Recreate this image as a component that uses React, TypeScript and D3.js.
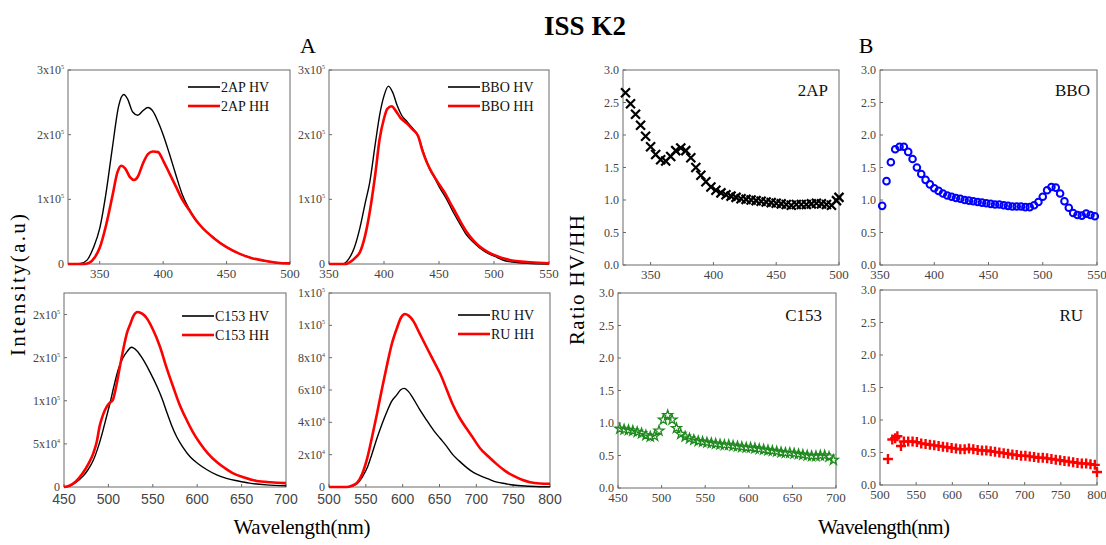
import React from "react";
import * as d3 from "d3";

type P = [number, number];

// ---------- Panel A data (wavelength nm, intensity) ----------
// 2AP, intensity in units of 1e5
const ap2HV: P[] = [[325,0],[335,0.01],[340,0.06],[345,0.25],[350,0.55],[355,1.1],[360,1.8],[365,2.45],[369,2.62],[372,2.55],[376,2.35],[380,2.3],[384,2.37],[388,2.42],[392,2.36],[396,2.2],[400,2.0],[405,1.7],[410,1.38],[415,1.08],[420,0.87],[425,0.71],[430,0.58],[440,0.4],[450,0.26],[460,0.16],[470,0.09],[480,0.05],[490,0.02],[500,0.01]];
const ap2HH: P[] = [[325,0],[338,0],[342,0.02],[346,0.1],[350,0.25],[355,0.6],[360,1.05],[364,1.42],[367,1.52],[370,1.48],[374,1.34],[377,1.3],[380,1.35],[384,1.55],[388,1.7],[392,1.74],[396,1.73],[400,1.6],[405,1.4],[410,1.2],[415,1.0],[420,0.85],[425,0.7],[430,0.58],[440,0.4],[450,0.26],[460,0.16],[470,0.09],[480,0.05],[490,0.02],[500,0.01]];
// BBO, intensity in units of 1e5
const bboHV: P[] = [[350,0],[362,0],[368,0.08],[373,0.25],[378,0.55],[383,0.95],[387,1.26],[392,1.85],[396,2.3],[400,2.6],[404,2.75],[408,2.65],[412,2.45],[416,2.3],[421,2.2],[426,2.1],[431,1.98],[436,1.72],[442,1.45],[446,1.33],[451,1.17],[457,1.0],[463,0.8],[469,0.62],[475,0.45],[481,0.34],[487,0.25],[495,0.16],[503,0.1],[510,0.05],[517,0.03],[530,0.01],[550,0]];
const bboHH: P[] = [[350,0],[365,0],[370,0.04],[374,0.1],[378,0.18],[383,0.45],[387,0.8],[392,1.38],[396,1.93],[400,2.25],[403,2.4],[407,2.44],[411,2.36],[415,2.26],[421,2.17],[426,2.08],[431,1.98],[435,1.75],[439,1.57],[444,1.4],[451,1.21],[456,1.08],[460,0.95],[465,0.8],[470,0.64],[475,0.5],[481,0.37],[487,0.27],[495,0.18],[503,0.12],[510,0.08],[518,0.05],[530,0.03],[540,0.02],[550,0.01]];
// C153, intensity in units of 1e4
const c153HV: P[] = [[450,0],[456,0.1],[463,0.5],[471,1.2],[477,2.0],[483,3.1],[489,4.8],[494,6.6],[498,8.2],[502,9.8],[506,11.6],[511,13.6],[516,14.9],[521,15.7],[526,16.2],[532,15.8],[539,14.8],[547,13.3],[555,11.6],[561,10.1],[566,8.6],[571,7.2],[577,5.8],[584,4.6],[592,3.5],[601,2.7],[611,2.0],[622,1.4],[633,1.0],[646,0.7],[659,0.45],[678,0.25],[700,0.15]];
const c153HH: P[] = [[450,0],[456,0.15],[463,0.6],[471,1.6],[477,2.6],[483,3.9],[487,5.3],[490,7.0],[494,8.4],[498,9.3],[502,9.8],[505,10.1],[509,11.8],[513,14.0],[517,16.1],[521,17.9],[525,19.0],[528,19.8],[533,20.3],[538,20.1],[543,19.6],[550,18.3],[558,16.3],[565,14.0],[573,11.6],[580,9.6],[588,7.8],[595,6.4],[603,5.1],[612,3.9],[622,2.9],[631,2.2],[640,1.6],[653,1.1],[667,0.7],[683,0.55],[700,0.45]];
// RU, intensity in units of 1e4
const ruHV: P[] = [[500,0],[524,0],[531,0.05],[538,0.2],[545,0.6],[552,1.2],[558,2.0],[565,3.0],[572,3.9],[579,4.7],[585,5.3],[592,5.7],[597,6.0],[602,6.1],[608,5.9],[614,5.5],[623,4.8],[633,4.1],[642,3.5],[651,3.0],[660,2.5],[668,2.0],[677,1.6],[687,1.2],[696,0.9],[705,0.7],[716,0.5],[728,0.3],[740,0.2],[750,0.12],[770,0.05],[786,0.02],[800,0.02]];
const ruHH: P[] = [[500,0],[524,0],[531,0.08],[538,0.25],[545,0.8],[552,1.8],[558,3.0],[565,4.5],[572,6.1],[579,7.6],[585,8.8],[592,9.8],[598,10.5],[603,10.7],[608,10.6],[614,10.3],[623,9.5],[633,8.6],[642,7.8],[651,7.0],[660,6.0],[668,5.1],[677,4.3],[687,3.6],[696,3.0],[705,2.4],[716,1.9],[728,1.4],[739,1.0],[750,0.7],[762,0.45],[773,0.3],[786,0.22],[800,0.2]];

// ---------- Panel B data (wavelength nm, ratio HV/HH) ----------
const ratio2AP: P[] = [[330,2.65],[334,2.48],[338,2.32],[342,2.15],[346,1.98],[350,1.82],[354,1.7],[358,1.62],[362,1.6],[366,1.67],[370,1.76],[374,1.8],[378,1.76],[382,1.65],[386,1.5],[390,1.38],[394,1.28],[398,1.2],[402,1.15],[406,1.11],[410,1.08],[414,1.06],[418,1.04],[422,1.02],[426,1.01],[430,1.0],[434,0.99],[438,0.98],[442,0.97],[446,0.96],[450,0.95],[454,0.94],[458,0.93],[462,0.92],[466,0.93],[470,0.93],[474,0.93],[478,0.94],[482,0.95],[486,0.94],[490,0.93],[494,0.92],[498,0.99],[500,1.04]];
const ratioBBO: P[] = [[352,0.91],[356,1.29],[360,1.58],[364,1.78],[368,1.82],[372,1.82],[376,1.74],[380,1.63],[384,1.5],[388,1.4],[392,1.31],[396,1.24],[400,1.18],[404,1.14],[408,1.1],[412,1.07],[416,1.05],[420,1.03],[424,1.02],[428,1.0],[432,0.99],[436,0.98],[440,0.97],[444,0.96],[448,0.95],[452,0.94],[456,0.93],[460,0.93],[464,0.92],[468,0.91],[472,0.9],[476,0.9],[480,0.9],[484,0.89],[488,0.89],[492,0.92],[496,0.97],[500,1.05],[504,1.15],[508,1.2],[512,1.19],[516,1.1],[520,0.98],[524,0.88],[528,0.8],[532,0.77],[536,0.76],[540,0.79],[544,0.77],[548,0.75]];
const ratioC153: P[] = [[452,0.91],[457,0.9],[462,0.89],[467,0.88],[472,0.86],[477,0.84],[482,0.81],[487,0.79],[492,0.8],[497,0.88],[502,1.05],[507,1.12],[512,1.05],[517,0.92],[522,0.83],[527,0.79],[532,0.76],[537,0.74],[542,0.72],[547,0.71],[552,0.7],[557,0.69],[562,0.68],[567,0.67],[572,0.66],[577,0.66],[582,0.65],[587,0.64],[592,0.63],[597,0.62],[602,0.62],[607,0.61],[612,0.6],[617,0.59],[622,0.58],[627,0.57],[632,0.56],[637,0.55],[642,0.54],[647,0.54],[652,0.53],[657,0.52],[662,0.51],[667,0.5],[672,0.49],[677,0.49],[682,0.5],[687,0.5],[692,0.48],[697,0.43]];
const ratioRU: P[] = [[511,0.4],[517,0.7],[521,0.72],[524,0.75],[529,0.6],[533,0.67],[539,0.67],[545,0.67],[551,0.66],[557,0.64],[563,0.63],[569,0.62],[575,0.61],[581,0.6],[587,0.59],[593,0.58],[599,0.57],[605,0.56],[611,0.55],[617,0.55],[623,0.56],[629,0.55],[635,0.54],[641,0.53],[647,0.53],[653,0.52],[659,0.51],[665,0.5],[671,0.49],[677,0.48],[683,0.47],[689,0.46],[695,0.45],[701,0.45],[707,0.44],[713,0.43],[719,0.42],[725,0.42],[731,0.41],[737,0.4],[743,0.39],[749,0.38],[755,0.37],[761,0.36],[767,0.35],[773,0.34],[779,0.33],[785,0.33],[791,0.32],[797,0.31],[800,0.2]];

// ---------- Tick values / labels ----------
const xTicks2AP = [350, 400, 450, 500];
const xTicksBBO = [350, 400, 450, 500, 550];
const xTicksC153 = [450, 500, 550, 600, 650, 700];
const xTicksRU = [500, 550, 600, 650, 700, 750, 800];
const yTicksA1 = [0, 1, 2, 3];
const yLabelsA1 = ["0", "1x10|5", "2x10|5", "3x10|5"];
const yTicksC153 = [0, 5, 10, 15, 20];
const yLabelsC153 = ["0", "5x10|4", "1x10|5", "2x10|5", "2x10|5"];
const yTicksRU = [0, 2, 4, 6, 8, 10, 12];
const yLabelsRU = ["0", "2x10|4", "4x10|4", "6x10|4", "8x10|4", "1x10|5", "1x10|5"];
const yTicksRatio = [0, 0.5, 1, 1.5, 2, 2.5, 3];
const yLabelsRatio = ["0.0", "0.5", "1.0", "1.5", "2.0", "2.5", "3.0"];

const SERIF = "Liberation Serif";
const SANS = "Liberation Sans";
const FRAME = "#6a6a6a";
const TICKC = "#444";

function YLabel({ text, x, y }: { text: string; x: number; y: number }) {
  const [b, e] = text.split("|");
  return (
    <text x={x} y={y + 4} textAnchor="end" style={{ fontFamily: SERIF }} fontSize={12} fill={TICKC}>
      {b}
      {e ? (
        <tspan dy={-5} fontSize={6}>{e}</tspan>
      ) : null}
    </text>
  );
}

function Frame({ box, xs, ys, xTicks, yTicks, yLabels, xFont, xSize, xDy }: any) {
  return (
    <g>
      <rect x={box.x0} y={box.y0} width={box.x1 - box.x0} height={box.y1 - box.y0} fill="none" stroke={FRAME} strokeWidth={1} />
      {xTicks.map((t: number) => (
        <g key={"x" + t}>
          <line x1={xs(t)} x2={xs(t)} y1={box.y1} y2={box.y1 - 3} stroke={FRAME} />
          <text x={xs(t)} y={box.y1 + xDy} textAnchor="middle" style={{ fontFamily: xFont }} fontSize={xSize} fill={TICKC}>{t}</text>
        </g>
      ))}
      {yTicks.map((t: number, i: number) => (
        <g key={"y" + t}>
          <line x1={box.x0} x2={box.x0 + 3} y1={ys(t)} y2={ys(t)} stroke={FRAME} />
          <YLabel text={yLabels[i]} x={box.x0 - 4} y={ys(t)} />
        </g>
      ))}
    </g>
  );
}

function SpectrumPanel({ box, xDom, yDom, xTicks, yTicks, yLabels, hv, hh, name, legX, legY, xFont, xSize, xDy }: any) {
  const xs = d3.scaleLinear().domain(xDom).range([box.x0, box.x1]);
  const ys = d3.scaleLinear().domain(yDom).range([box.y1, box.y0]);
  const line = d3.line<P>().x((d) => xs(d[0])).y((d) => ys(d[1])).curve(d3.curveMonotoneX);
  return (
    <g>
      <Frame box={box} xs={xs} ys={ys} xTicks={xTicks} yTicks={yTicks} yLabels={yLabels} xFont={xFont} xSize={xSize} xDy={xDy} />
      <path d={line(hv) || ""} fill="none" stroke="#000" strokeWidth={1.4} />
      <path d={line(hh) || ""} fill="none" stroke="#ff0000" strokeWidth={2.6} />
      <line x1={legX} x2={legX + 32} y1={legY} y2={legY} stroke="#000" strokeWidth={1.6} />
      <text x={legX + 33} y={legY + 5} style={{ fontFamily: SERIF }} fontSize={14} fill="#111">{name} HV</text>
      <line x1={legX} x2={legX + 32} y1={legY + 19} y2={legY + 19} stroke="#ff0000" strokeWidth={2.6} />
      <text x={legX + 33} y={legY + 24} style={{ fontFamily: SERIF }} fontSize={14} fill="#111">{name} HH</text>
    </g>
  );
}

function RatioPanel({ box, xDom, xTicks, data, marker, name, nameX, nameY }: any) {
  const xs = d3.scaleLinear().domain(xDom).range([box.x0, box.x1]);
  const ys = d3.scaleLinear().domain([0, 3]).range([box.y1, box.y0]);
  const star = d3.symbol().type(d3.symbolStar).size(30)() || "";
  return (
    <g>
      <Frame box={box} xs={xs} ys={ys} xTicks={xTicks} yTicks={yTicksRatio} yLabels={yLabelsRatio} xFont={SERIF} xSize={13} xDy={14} />
      <g>
        {data.map((d: P, i: number) => {
          const cx = xs(d[0]);
          const cy = ys(d[1]);
          if (marker === "x")
            return (
              <path key={i} d={`M${cx - 4.5},${cy - 4.5}L${cx + 4.5},${cy + 4.5}M${cx - 4.5},${cy + 4.5}L${cx + 4.5},${cy - 4.5}`} stroke="#000" strokeWidth={2.2} fill="none" />
            );
          if (marker === "o")
            return <circle key={i} cx={cx} cy={cy} r={3.3} fill="none" stroke="#0000ff" strokeWidth={2} />;
          if (marker === "star")
            return <path key={i} d={star} transform={`translate(${cx},${cy})`} fill="none" stroke="#1f8a1f" strokeWidth={1.3} />;
          return (
            <path key={i} d={`M${cx - 5},${cy}L${cx + 5},${cy}M${cx},${cy - 5}L${cx},${cy + 5}`} stroke="#ff0000" strokeWidth={2.4} fill="none" />
          );
        })}
      </g>
      <text x={nameX} y={nameY} textAnchor="end" style={{ fontFamily: SERIF }} fontSize={17} fill="#111">{name}</text>
    </g>
  );
}

export default function App() {
  return (
    <svg width={1106} height={545} style={{ position: "absolute", left: 0, top: 0, background: "#fff", fontFamily: SERIF }}>
      <rect width={1106} height={545} fill="#fff" />
      <text x={585} y={35} textAnchor="middle" style={{ fontFamily: SERIF }} fontWeight="bold" fontSize={27} fill="#000">ISS K2</text>
      <text x={308} y={53} textAnchor="middle" style={{ fontFamily: SERIF }} fontSize={22} fill="#000">A</text>
      <text x={866} y={53} textAnchor="middle" style={{ fontFamily: SERIF }} fontSize={22} fill="#000">B</text>

      <SpectrumPanel box={{ x0: 68, y0: 70, x1: 290, y1: 264 }} xDom={[325, 500]} yDom={[0, 3]} xTicks={xTicks2AP}
        yTicks={yTicksA1} yLabels={yLabelsA1} hv={ap2HV} hh={ap2HH} name="2AP" legX={188} legY={87} xFont={SERIF} xSize={13} xDy={14} />
      <SpectrumPanel box={{ x0: 329, y0: 70, x1: 549, y1: 264 }} xDom={[350, 550]} yDom={[0, 3]} xTicks={xTicksBBO}
        yTicks={yTicksA1} yLabels={yLabelsA1} hv={bboHV} hh={bboHH} name="BBO" legX={448} legY={87} xFont={SERIF} xSize={13} xDy={14} />
      <SpectrumPanel box={{ x0: 64, y0: 293, x1: 286, y1: 487 }} xDom={[450, 700]} yDom={[0, 22.5]} xTicks={xTicksC153}
        yTicks={yTicksC153} yLabels={yLabelsC153} hv={c153HV} hh={c153HH} name="C153" legX={182} legY={316} xFont={SANS} xSize={14} xDy={17} />
      <SpectrumPanel box={{ x0: 329, y0: 293, x1: 550, y1: 487 }} xDom={[500, 800]} yDom={[0, 12]} xTicks={xTicksRU}
        yTicks={yTicksRU} yLabels={yLabelsRU} hv={ruHV} hh={ruHH} name="RU" legX={458} legY={315} xFont={SANS} xSize={14} xDy={17} />

      <RatioPanel box={{ x0: 623, y0: 70, x1: 839, y1: 265 }} xDom={[328, 500]} xTicks={xTicks2AP} data={ratio2AP} marker="x" name="2AP" nameX={828} nameY={96} />
      <RatioPanel box={{ x0: 880, y0: 70, x1: 1097, y1: 265 }} xDom={[350, 550]} xTicks={xTicksBBO} data={ratioBBO} marker="o" name="BBO" nameX={1090} nameY={96} />
      <RatioPanel box={{ x0: 618, y0: 293, x1: 836, y1: 488 }} xDom={[450, 700]} xTicks={xTicksC153} data={ratioC153} marker="star" name="C153" nameX={822} nameY={321} />
      <RatioPanel box={{ x0: 880, y0: 290, x1: 1097, y1: 485 }} xDom={[500, 800]} xTicks={xTicksRU} data={ratioRU} marker="+" name="RU" nameX={1083} nameY={321} />

      <text transform="translate(25,285) rotate(-90)" textAnchor="middle" style={{ fontFamily: SERIF }} fontSize={21} textLength={142} lengthAdjust="spacing" fill="#000">Intensity(a.u)</text>
      <text transform="translate(584,280) rotate(-90)" textAnchor="middle" style={{ fontFamily: SERIF }} fontSize={21} textLength={130} lengthAdjust="spacing" fill="#000">Ratio HV/HH</text>
      <text x={302} y={534} textAnchor="middle" style={{ fontFamily: SERIF }} fontSize={21} textLength={137} lengthAdjust="spacing" fill="#000">Wavelength(nm)</text>
      <text x={884} y={534} textAnchor="middle" style={{ fontFamily: SERIF }} fontSize={21} textLength={132} lengthAdjust="spacing" fill="#000">Wavelength(nm)</text>
    </svg>
  );
}
